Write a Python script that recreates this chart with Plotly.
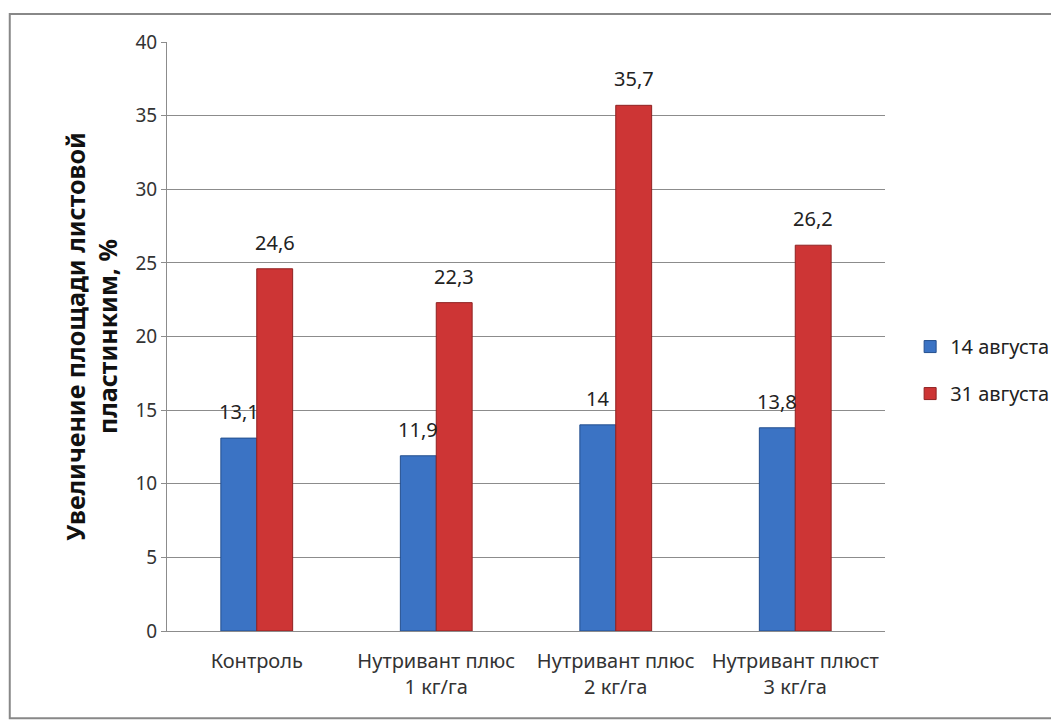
import plotly.graph_objects as go

categories = ["Контроль", "Нутривант плюс<br>1 кг/га", "Нутривант плюс<br>2 кг/га", "Нутривант плюст<br>3 кг/га"]
series_names = ["14 августа", "31 августа"]
aug14 = [13.1, 11.9, 14.0, 13.8]
aug31 = [24.6, 22.3, 35.7, 26.2]
labels14 = ["13,1", "11,9", "14", "13,8"]
labels31 = ["24,6", "22,3", "35,7", "26,2"]
y_ticks = [0, 5, 10, 15, 20, 25, 30, 35, 40]

FONT = "Noto Sans, sans-serif"
colors = ["#3b73c4", "#cd3535"]
lines = ["#244f8e", "#8f2222"]

fig = go.Figure()
for name, vals, c, lc in zip(series_names, [aug14, aug31], colors, lines):
    fig.add_trace(go.Bar(
        x=categories, y=vals, name=name, legendgroup=name,
        marker=dict(color=c, line=dict(color=lc, width=1)),
    ))

for vals, labs, shift in [(aug14, labels14, -18), (aug31, labels31, 18)]:
    for cat, v, lab in zip(categories, vals, labs):
        fig.add_annotation(x=cat, y=v, text=lab, showarrow=False, xshift=shift,
                           yanchor="bottom", yshift=11,
                           font=dict(family=FONT, size=20, color="#222222"))

fig.add_shape(type="rect", xref="paper", yref="paper",
              x0=-0.219, x1=1.5, y0=-0.148, y1=1.0475,
              line=dict(color="#888888", width=2), layer="below")

fig.update_layout(
    width=1059, height=720,
    margin=dict(l=159, r=182, t=34, b=97),
    paper_bgcolor="white", plot_bgcolor="white",
    barmode="group", bargap=0.6, bargroupgap=0,
    font=dict(family=FONT, size=17, color="#333333"),
    legend=dict(x=1.035, y=0.443, xanchor="left", yanchor="middle",
                font=dict(family=FONT, size=20, color="#222222"),
                tracegroupgap=18, itemwidth=30),
    showlegend=True,
)
fig.update_yaxes(range=[0, 40], tickvals=y_ticks, showgrid=True,
                 gridcolor="#8c8c8c", gridwidth=1,
                 showline=True, linecolor="#8c8c8c", ticks="outside",
                 ticklen=5, tickcolor="#8c8c8c",
                 tickfont=dict(family=FONT, size=19, color="#333333"),
                 zeroline=False,
                 title=dict(text="Увеличение площади листовой<br>пластинким, %",
                            font=dict(family="Noto Sans, sans-serif", size=25, color="#111111", weight="bold"),
                            standoff=10))
fig.update_xaxes(showline=True, linecolor="#8c8c8c", ticks="",
                 ticklabelstandoff=12,
                 tickfont=dict(family=FONT, size=20, color="#333333"))

fig.write_html("out.html")
